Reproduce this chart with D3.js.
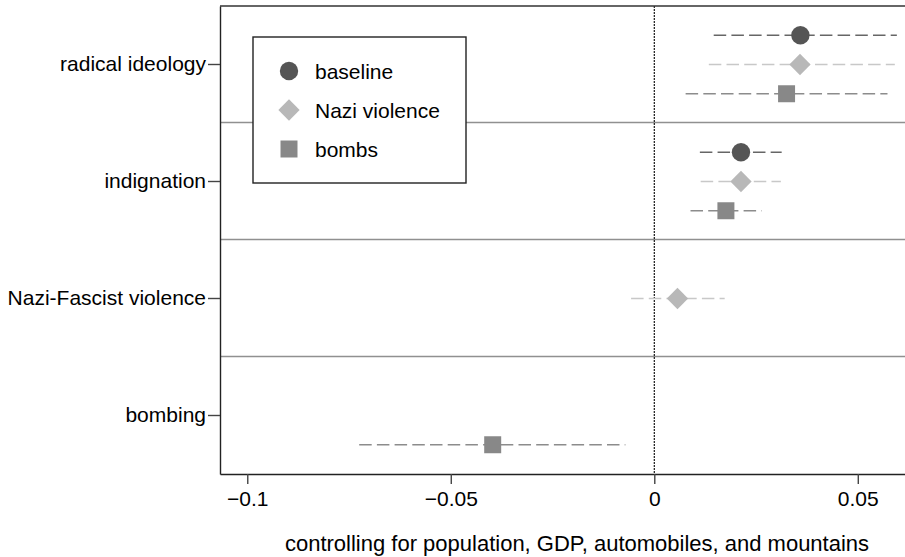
<!DOCTYPE html>
<html>
<head>
<meta charset="utf-8">
<script src="https://cdn.jsdelivr.net/npm/d3@7"></script>
<style>
  html, body { margin: 0; padding: 0; background: #fff; }
  svg { display: block; font-family: "Liberation Sans", Arial, Helvetica, sans-serif; }
</style>
</head>
<body>
<svg id="chart" width="905" height="557"></svg>
<script>
// ---- data ----
const categories = ["radical ideology", "indignation", "Nazi-Fascist violence", "bombing"];
const seriesNames = ["baseline", "Nazi violence", "bombs"];

const baselineEst   = [0.0359, 0.0213, null, null];
const baselineLow   = [0.0146, 0.0112, null, null];
const baselineHigh  = [0.0596, 0.0313, null, null];

const naziEst  = [0.0358, 0.0213, 0.0057, null];
const naziLow  = [0.0134, 0.0114, -0.0057, null];
const naziHigh = [0.0591, 0.0311, 0.0173, null];

const bombsEst  = [0.0325, 0.0176, null, -0.0397];
const bombsLow  = [0.0077, 0.0089, null, -0.0725];
const bombsHigh = [0.0573, 0.0264, null, -0.0071];

const xTicks = [-0.1, -0.05, 0, 0.05];
const xTickLabels = ["\u22120.1", "\u22120.05", "0", "0.05"];
const xDomain = [-0.1067, 0.0616];
const xTitle = "controlling for population, GDP, automobiles, and mountains";

// ---- build table ----
const estimates = [baselineEst, naziEst, bombsEst];
const lows = [baselineLow, naziLow, bombsLow];
const highs = [baselineHigh, naziHigh, bombsHigh];
const rows = [];
seriesNames.forEach((s, si) => {
  categories.forEach((c, ci) => {
    if (estimates[si][ci] !== null) {
      rows.push({ series: s, category: c, est: estimates[si][ci], lo: lows[si][ci], hi: highs[si][ci] });
    }
  });
});

// ---- layout ----
const plot = { left: 220, right: 905, top: 6, bottom: 474 };
const svg = d3.select("#chart");

const x = d3.scaleLinear().domain(xDomain).range([plot.left, plot.right]);
const y = d3.scaleBand().domain(categories).range([plot.top, plot.bottom]).padding(0);
const bw = y.bandwidth();
const ySeries = d3.scalePoint().domain(seriesNames).range([-bw / 4, bw / 4]);
const yc = c => y(c) + bw / 2;

const style = {
  "baseline":      { fill: "#555555", line: "#666666", shape: d3.symbolCircle, size: Math.PI * 9.2 * 9.2 },
  "Nazi violence": { fill: "#b8b8b8", line: "#c8c8c8", shape: d3.symbolDiamond2, size: 2 * 12 * 12 },
  "bombs":         { fill: "#888888", line: "#8c8c8c", shape: d3.symbolSquare, size: 17 * 17 }
};

// separators between categories
svg.append("g").selectAll("line")
  .data(categories.slice(1))
  .join("line")
  .attr("x1", plot.left).attr("x2", plot.right)
  .attr("y1", d => Math.round(y(d)) - 0.5).attr("y2", d => Math.round(y(d)) - 0.5)
  .attr("stroke", "#909090").attr("stroke-width", 1.3);

// zero line
svg.append("line")
  .attr("x1", x(0)).attr("x2", x(0))
  .attr("y1", plot.top).attr("y2", plot.bottom)
  .attr("stroke", "#000").attr("stroke-width", 1.1)
  .attr("stroke-dasharray", "2,1");

// CI lines
svg.append("g").selectAll("line")
  .data(rows)
  .join("line")
  .attr("x1", d => x(d.lo)).attr("x2", d => x(d.hi))
  .attr("y1", d => yc(d.category) + ySeries(d.series))
  .attr("y2", d => yc(d.category) + ySeries(d.series))
  .attr("stroke", d => style[d.series].line)
  .attr("stroke-width", 1.4)
  .attr("stroke-dasharray", "12.5,5.2");

// markers
svg.append("g").selectAll("path")
  .data(rows)
  .join("path")
  .attr("transform", d => `translate(${x(d.est)},${yc(d.category) + ySeries(d.series)})`)
  .attr("d", d => d3.symbol().type(style[d.series].shape).size(style[d.series].size)())
  .attr("fill", d => style[d.series].fill);

// frame: top border
svg.append("line")
  .attr("x1", plot.left).attr("x2", plot.right)
  .attr("y1", plot.top).attr("y2", plot.top)
  .attr("stroke", "#333").attr("stroke-width", 1.4);

// x axis
const xAxis = d3.axisBottom(x)
  .tickValues(xTicks)
  .tickFormat((d, i) => xTickLabels[i])
  .tickSize(10)
  .tickPadding(7)
  .tickSizeOuter(0);
const gx = svg.append("g").attr("transform", `translate(0,${plot.bottom})`).call(xAxis);
gx.select(".domain").attr("stroke", "#222").attr("stroke-width", 1.4);
gx.selectAll(".tick line").attr("stroke", "#444").attr("stroke-width", 1.4);
gx.selectAll(".tick text").attr("font-size", 21).attr("fill", "#000")
  .attr("font-family", "'Liberation Sans', Arial, sans-serif");

// y axis
const yAxis = d3.axisLeft(y).tickSize(12).tickPadding(2).tickSizeOuter(0);
const gy = svg.append("g").attr("transform", `translate(${plot.left},0)`).call(yAxis);
gy.select(".domain").attr("stroke", "#222").attr("stroke-width", 1.4);
gy.selectAll(".tick line").attr("stroke", "#444").attr("stroke-width", 1.4);
gy.selectAll(".tick text").attr("font-size", 21).attr("fill", "#000")
  .attr("font-family", "'Liberation Sans', Arial, sans-serif");

// x title
svg.append("text")
  .attr("x", 577).attr("y", 551)
  .attr("text-anchor", "middle")
  .attr("font-size", 22)
  .text(xTitle);

// legend
const lg = svg.append("g");
lg.append("rect")
  .attr("x", 253).attr("y", 37).attr("width", 213).attr("height", 146)
  .attr("fill", "#fff").attr("stroke", "#222").attr("stroke-width", 1.4);
const legendY = d3.scalePoint().domain(seriesNames).range([71, 149]);
const li = lg.selectAll("g.item").data(seriesNames).join("g").attr("class", "item")
  .attr("transform", d => `translate(0,${legendY(d)})`);
li.append("path")
  .attr("transform", "translate(289,0)")
  .attr("d", d => d3.symbol().type(style[d].shape).size(style[d].size)())
  .attr("fill", d => style[d].fill);
li.append("text")
  .attr("x", 315).attr("y", 7.5)
  .attr("font-size", 21)
  .text(d => d);
</script>
</body>
</html>
